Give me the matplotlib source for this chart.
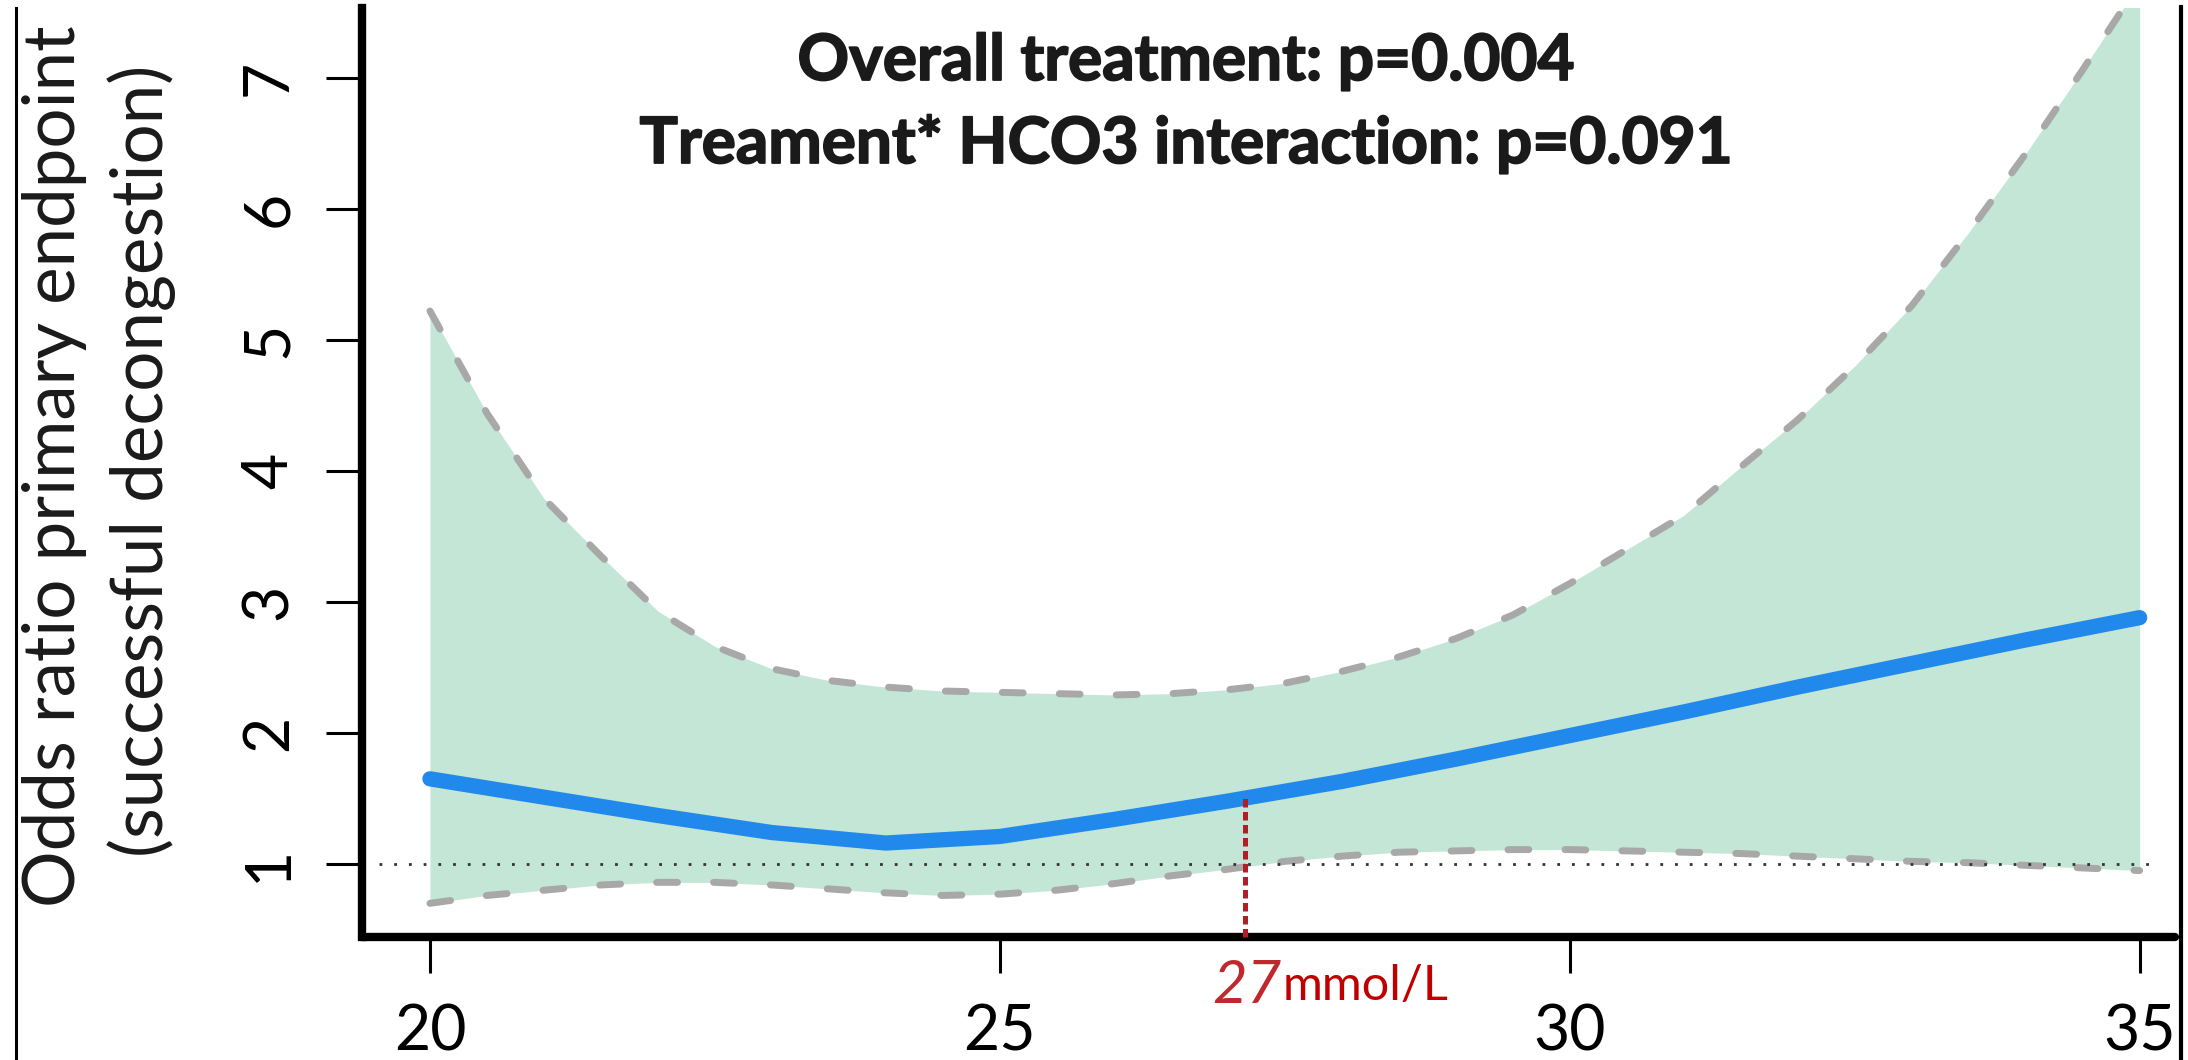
import numpy as np
import matplotlib.pyplot as plt
import matplotlib.patheffects as pe
from matplotlib.lines import Line2D

plt.rcParams['font.family'] = ['Lato', 'DejaVu Sans']

# HCO3 (mmol/L) grid for the spline estimate
x_fit = [20, 21, 22, 23, 24, 25, 26, 27, 28, 29, 30, 31, 32, 33, 34, 35]
or_fit = [1.65, 1.51, 1.37, 1.24, 1.16, 1.21, 1.34, 1.48, 1.63, 1.80, 1.98, 2.16, 2.35, 2.53, 2.71, 2.88]

# 95% CI bounds
x_ci = [20, 20.5, 21, 21.5, 22, 22.5, 23, 23.5, 24, 24.5, 25, 25.5, 26, 26.5, 27, 27.5,
        28, 28.5, 29, 29.5, 30, 30.5, 31, 31.5, 32, 32.5, 33, 33.5, 34, 34.5, 35]
ci_upper = [5.22, 4.44, 3.79, 3.35, 2.93, 2.66, 2.49, 2.40, 2.35, 2.32, 2.31, 2.30, 2.29, 2.30,
            2.33, 2.38, 2.47, 2.58, 2.72, 2.90, 3.14, 3.40, 3.66, 4.03, 4.39, 4.80, 5.26, 5.82,
            6.42, 7.06, 7.72]
ci_lower = [0.70, 0.76, 0.80, 0.84, 0.86, 0.86, 0.84, 0.81, 0.78, 0.76, 0.77, 0.80, 0.85, 0.91,
            0.96, 1.02, 1.06, 1.09, 1.10, 1.11, 1.11, 1.10, 1.09, 1.08, 1.06, 1.04, 1.02, 1.01,
            0.99, 0.97, 0.95]

cutoff = 27.15  # where the lower CI crosses 1
ref_line = 1
xticks = [20, 25, 30, 35]
yticks = [1, 2, 3, 4, 5, 6, 7]

title1 = 'Overall treatment: p=0.004'
title2 = 'Treament* HCO3 interaction: p=0.091'
ylab1 = 'Odds ratio primary endpoint'
ylab2 = '(successful decongestion)'

W, H = 2188, 1060
fig = plt.figure(figsize=(W / 100, H / 100), dpi=100)
ax = fig.add_axes([362 / W, 123 / H, (2175 - 362) / W, (937 - 8) / H])

ax.fill_between(x_ci, ci_lower, ci_upper, color='#C4E6D6', lw=0, zorder=1)
ax.plot(x_ci, ci_upper, color='#A8A8A8', lw=5, dashes=(3.0, 5.2), dash_capstyle='round', zorder=2)
ax.plot(x_ci, ci_lower, color='#A8A8A8', lw=5, dashes=(3.0, 5.2), dash_capstyle='round', zorder=2)
ax.hlines(ref_line, 19.55, 35.15, color='#333333', lw=2, linestyles=(0, (1, 4.3)), zorder=3)
ax.plot(x_fit, or_fit, color='#2189EB', lw=11, solid_capstyle='round', zorder=4)

y_cut = np.interp(cutoff, x_fit, or_fit)
ax.vlines(cutoff, 0.443, y_cut, color='#B01E28', lw=3.6, linestyles=(0, (1.7, 0.9)),
          zorder=5, clip_on=False)

ax.set_xlim(19.404, 35.31)
ax.set_ylim(0.443, 7.532)
ax.spines['top'].set_visible(False)
ax.spines['right'].set_visible(False)
ax.spines['left'].set_linewidth(6)
ax.spines['bottom'].set_linewidth(6)
ax.spines['left'].set_capstyle('projecting')
ax.spines['bottom'].set_capstyle('round')

ax.set_xticks(xticks)
ax.set_yticks(yticks)
ax.tick_params(axis='both', direction='out', length=26, width=2.2, labelsize=45, color='black')
ax.tick_params(axis='x', pad=22)
ax.tick_params(axis='y', pad=20)
for lab in ax.get_yticklabels():
    lab.set_rotation(90)
    lab.set_va('center')

# titles (a thin stroke makes the bold face look as heavy as the original)
heavy = [pe.withStroke(linewidth=1.3, foreground='#1a1a1a')]
fig.text(1186 / W, 1 - 80 / H, title1, ha='center', va='baseline', fontsize=46,
         fontweight='bold', color='#1a1a1a', path_effects=heavy)
fig.text(1186 / W, 1 - 163 / H, title2, ha='center', va='baseline', fontsize=46,
         fontweight='bold', color='#1a1a1a', path_effects=heavy)

# y label (two lines)
fig.text(55 / W, 1 - 466 / H, ylab1, rotation=90, ha='center', va='center', fontsize=51,
         color='#1a1a1a')
fig.text(142 / W, 1 - 461 / H, ylab2, rotation=90, ha='center', va='center', fontsize=51,
         color='#1a1a1a')

# cut-off annotation
fig.text(1212 / W, 1 - 1003 / H, '27', ha='left', va='baseline', fontsize=43,
         style='italic', color='#C0282D')
fig.text(1283 / W, 1 - 1000 / H, 'mmol/L', ha='left', va='baseline', fontsize=35,
         color='#C00000')

# frame lines of the original figure panel
fig.add_artist(Line2D([16 / W, 16 / W], [0, 1 - 8 / H], transform=fig.transFigure,
                      color='black', lw=2.2))
fig.add_artist(Line2D([2181 / W, 2181 / W], [0, 1 - 7 / H], transform=fig.transFigure,
                      color='black', lw=3))

fig.savefig('out.png', dpi=100)
